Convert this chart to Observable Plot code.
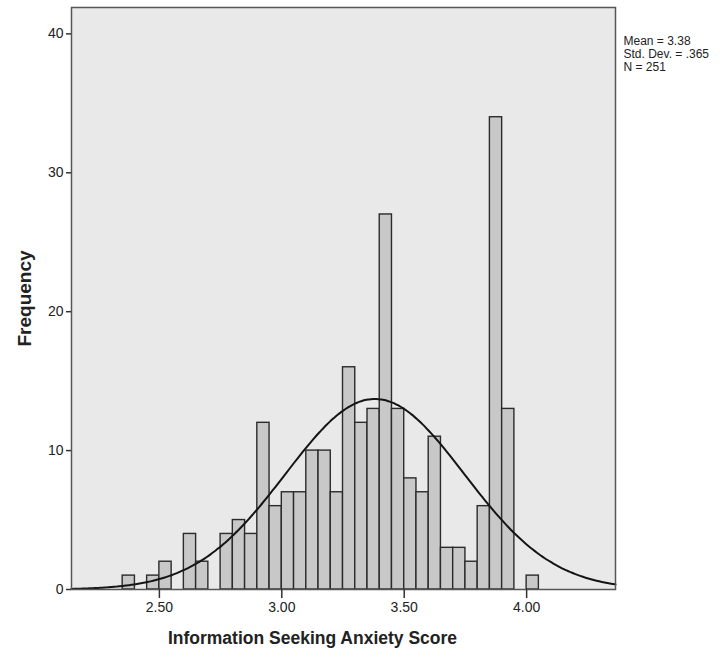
<!DOCTYPE html>
<html>
<head>
<meta charset="utf-8">
<script src="https://cdn.jsdelivr.net/npm/d3@7"></script>
<script src="https://cdn.jsdelivr.net/npm/@observablehq/plot@0.6"></script>
<style>
  html, body { margin: 0; padding: 0; background: #fff; }
  #chart { width: 727px; height: 648px; }
</style>
</head>
<body>
<div id="chart"></div>
<script>
// Histogram bins (lower edges, width 0.05) and their frequencies
const binStarts = [2.35, 2.40, 2.45, 2.50, 2.55, 2.60, 2.65, 2.70, 2.75, 2.80, 2.85, 2.90, 2.95, 3.00, 3.05,
                   3.10, 3.15, 3.20, 3.25, 3.30, 3.35, 3.40, 3.45, 3.50, 3.55, 3.60, 3.65, 3.70, 3.75, 3.80,
                   3.85, 3.90, 3.95, 4.00];
const counts = [1, 0, 1, 2, 0, 4, 2, 0, 4, 5, 4, 12, 6, 7, 7,
                10, 10, 7, 16, 12, 13, 27, 13, 8, 7, 11, 3, 3, 2, 6,
                34, 13, 0, 1];
const binWidth = 0.05;
const xTicks = [2.5, 3.0, 3.5, 4.0];
const yTicks = [0, 10, 20, 30, 40];
const mean = 3.38, sd = 0.365, N = 251;
const statsLabel = ["Mean = 3.38", "Std. Dev. = .365", "N = 251"];
const xLabel = "Information Seeking Anxiety Score";
const yLabel = "Frequency";

const bins = binStarts.map((s, i) => ({x1: s, x2: s + binWidth, y: counts[i]})).filter(d => d.y > 0);

const xDomain = [2.141, 4.363];
// Normal curve from the stated mean, SD and N (scaled to bin width)
const curve = d3.range(0, 201).map(i => {
  const x = xDomain[0] + (xDomain[1] - xDomain[0]) * i / 200;
  const z = (x - mean) / sd;
  return {x, y: N * binWidth / (sd * Math.sqrt(2 * Math.PI)) * Math.exp(-0.5 * z * z)};
});

const chart = Plot.plot({
  width: 727,
  height: 648,
  marginLeft: 71,
  marginRight: 112,
  marginTop: 7,
  marginBottom: 59,
  style: {fontFamily: "'Liberation Sans', Arial, sans-serif", background: "#ffffff", color: "#222"},
  x: {domain: xDomain},
  y: {domain: [0, 41.9]},
  marks: [
    Plot.frame({fill: "#e9e9e9", stroke: "none"}),
    Plot.rectY(bins, {x1: "x1", x2: "x2", y: "y", fill: "#c8c8c8", stroke: "#2b2b2b", strokeWidth: 1.4}),
    Plot.line(curve, {x: "x", y: "y", stroke: "#151515", strokeWidth: 2, curve: "basis"}),
    Plot.frame({stroke: "#555", strokeWidth: 1.5}),
    Plot.axisY({ticks: yTicks, tickSize: 5, tickFormat: d => String(d), label: null, fontSize: 14, tickPadding: 3, stroke: "#333", strokeWidth: 1.5}),
    Plot.axisX({ticks: xTicks, tickSize: 9, tickFormat: d3.format(".2f"), label: null, fontSize: 14, tickPadding: 4, stroke: "#333", strokeWidth: 1.5}),
    Plot.text([xLabel], {frameAnchor: "bottom", dx: -31, dy: 49, lineAnchor: "middle", textAnchor: "middle", fontSize: 17.5, fontWeight: "bold", fill: "#222"}),
    Plot.text([yLabel], {frameAnchor: "left", rotate: -90, dx: -47, dy: 0, textAnchor: "middle", lineAnchor: "middle", fontSize: 19, fontWeight: "bold", fill: "#222"}),
    Plot.text([statsLabel.join("\n")], {frameAnchor: "top-right", dx: 8, dy: 29, textAnchor: "start", lineAnchor: "top", fontSize: 12, lineHeight: 1.05, fill: "#222"})
  ]
});
document.getElementById("chart").appendChild(chart);
</script>
</body>
</html>
